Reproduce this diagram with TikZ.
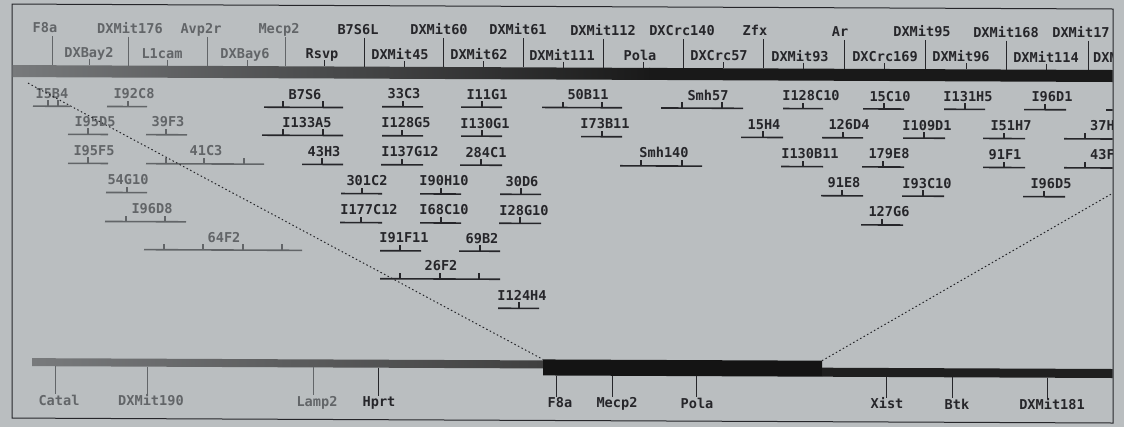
\documentclass[tikz,border=0pt]{standalone}
\usepackage{fontspec}
\newfontfamily\mapfont{DejaVu Sans Mono}
\definecolor{bg}{RGB}{186,190,192}
\definecolor{ink}{RGB}{38,38,42}
\definecolor{faint}{RGB}{98,101,104}
\definecolor{barlight}{RGB}{120,122,124}
\newcommand\yac[7]{% name, label, centre x, line y, x1, x2, style prefix
  \node[#7lbl] (#1) at (#3,#4-8) {#2};
  \draw[#7yacline] (#5,#4) -- (#6,#4);}
\newcommand\tk[3]{\draw[#3tick] (#1,#2) -- (#1,#2-6);}
\begin{document}
\begin{tikzpicture}[x=1pt,y=-1pt,
  lbl/.style={font=\mapfont\bfseries\fontsize{13.6}{16}\selectfont, text=ink, inner sep=0pt, anchor=base},
  flbl/.style={lbl, text=faint},
  yacline/.style={draw=ink, line width=1.6pt},
  fyacline/.style={draw=faint, line width=1.6pt},
  tick/.style={draw=ink, line width=1.1pt},
  ftick/.style={draw=faint, line width=1.1pt},
  dotline/.style={draw=ink, line width=1pt, dash pattern=on 1.5pt off 2.5pt},
  frame/.style={draw=ink, line width=1pt}]
\useasboundingbox (0,0) rectangle (1124,427);
\fill[bg] (0,0) rectangle (1124,427);
\begin{scope}[yslant=-0.0045]
\draw[frame] (12,4) rectangle (1113,418);
\clip (12.5,4.5) rectangle (1112.5,417.5);
% ---------- top chromosome bar ----------
\shade[left color=barlight, right color=black!90] (12,65) rectangle (650,77);
\fill[black!90] (649,65) rectangle (1113,77);
% ---------- top markers, row 1 (long ticks) ----------
\foreach \n/\t/\c/\k/\s in {
  tF8a/F8a/45/52/f, tDXMit176/DXMit176/130/128/f, tAvp2r/Avp2r/201/207/f,
  tMecp2/Mecp2/279/285/f, tB7S6L/B7S6L/358/364/, tDXMit60/DXMit60/439/443/,
  tDXMit61/DXMit61/518/523/, tDXMit112/DXMit112/603/603/, tDXCrc140/DXCrc140/682/683/,
  tZfx/Zfx/755/763/, tAr/Ar/840/844/, tDXMit95/DXMit95/922/925/,
  tDXMit168/DXMit168/1006/1006/, tDXMit17/DXMit17/1081/1088/}{
  \node[\s lbl] (\n) at (\c,32.5) {\t};
  \draw[\s tick, line width=1pt] (\k,36) -- (\k,65);}
% ---------- top markers, row 2 (short ticks) ----------
\foreach \n/\t/\c/\k/\s in {
  tDXBay2/DXBay2/89/89/f, tL1cam/L1cam/162/167/f, tDXBay6/DXBay6/245/247/f,
  tRsvp/Rsvp/322/324/, tDXMit45/DXMit45/400/404/, tDXMit62/DXMit62/479/483/,
  tDXMit111/DXMit111/562/563/, tPola/Pola/640/643/, tDXCrc57/DXCrc57/719/723/,
  tDXMit93/DXMit93/800/803/, tDXCrc169/DXCrc169/885/884/, tDXMit96/DXMit96/961/966/,
  tDXMit114/DXMit114/1046/1046/}{
  \node[\s lbl] (\n) at (\c,57.5) {\t};
  \draw[\s tick, line width=1pt] (\k,59) -- (\k,65);}
\node[lbl, anchor=base west] (tDXM) at (1093,57.5) {DXM};
% ---------- YAC contigs ----------
% row 1
\yac{I5B4}{I5B4}{52}{106}{33}{70}{f}\tk{48}{106}{f}\tk{58}{106}{f}
\yac{I92C8}{I92C8}{134}{106}{107}{147}{f}\tk{128}{106}{f}
\yac{B7S6}{B7S6}{305}{106}{264}{343}{}\tk{283}{106}{}\tk{323}{106}{}
\yac{33C3}{33C3}{404}{105}{382}{423}{}\tk{403}{105}{}
\yac{I11G1}{I11G1}{487}{105}{461}{502}{}\tk{482}{105}{}
\yac{50B11}{50B11}{588}{105}{542}{622}{}\tk{563}{105}{}\tk{602}{105}{}
\yac{Smh57}{Smh57}{708}{105}{661}{743}{}\tk{682}{105}{}\tk{722}{105}{}
\yac{I128C10}{I128C10}{811}{105}{783}{823}{}\tk{803}{105}{}
\yac{15C10}{15C10}{890}{105}{863}{904}{}\tk{884}{105}{}
\yac{I131H5}{I131H5}{968}{105}{944}{985}{}\tk{965}{105}{}
\yac{I96D1}{I96D1}{1052}{105}{1024}{1066}{}\tk{1045}{105}{}
\draw[yacline] (1106,105) -- (1113,105);
% row 2
\yac{I95D5}{I95D5}{95}{134}{68}{108}{f}\tk{88}{134}{f}
\yac{39F3}{39F3}{168}{134}{146}{187}{f}\tk{166}{134}{f}
\yac{I133A5}{I133A5}{307}{134}{262}{343}{}\tk{283}{134}{}\tk{323}{134}{}
\yac{I128G5}{I128G5}{406}{134}{382}{423}{}\tk{402}{134}{}
\yac{I130G1}{I130G1}{485}{134}{461}{502}{}\tk{482}{134}{}
\yac{I73B11}{I73B11}{605}{134}{581}{622}{}\tk{602}{134}{}
\yac{15H4}{15H4}{764}{134}{741}{783}{}\tk{763}{134}{}
\yac{126D4}{126D4}{849}{134}{822}{863}{}\tk{843}{134}{}
\yac{I109D1}{I109D1}{927}{134}{903}{945}{}\tk{924}{134}{}
\yac{I51H7}{I51H7}{1011}{134}{983}{1025}{}\tk{1004}{134}{}
\node[lbl, anchor=base west] (37H) at (1090,126) {37H};
\draw[yacline] (1064,134) -- (1113,134); \tk{1085}{134}{}
% row 3
\yac{I95F5}{I95F5}{94}{163}{68}{108}{f}\tk{88}{163}{f}
\yac{41C3}{41C3}{206}{163}{146}{264}{f}\tk{166}{163}{f}\tk{204}{163}{f}\tk{244}{163}{f}
\yac{43H3}{43H3}{324}{163}{302}{343}{}\tk{322}{163}{}
\yac{I137G12}{I137G12}{410}{163}{381}{423}{}\tk{402}{163}{}
\yac{284C1}{284C1}{486}{163}{460}{502}{}\tk{481}{163}{}
\yac{Smh140}{Smh140}{664}{163}{620}{702}{}\tk{641}{163}{}\tk{682}{163}{}
\yac{I130B11}{I130B11}{810}{163}{781}{823}{}\tk{803}{163}{}
\yac{179E8}{179E8}{889}{163}{862}{904}{}\tk{883}{163}{}
\yac{91F1}{91F1}{1005}{163}{983}{1025}{}\tk{1004}{163}{}
\node[lbl, anchor=base west] (43F) at (1090,155) {43F};
\draw[yacline] (1064,163) -- (1113,163); \tk{1085}{163}{}
% row 4
\yac{54G10}{54G10}{128}{192}{106}{147}{f}\tk{127}{192}{f}
\yac{301C2}{301C2}{367}{192}{341}{382}{}\tk{362}{192}{}
\yac{I90H10}{I90H10}{444}{192}{420}{461}{}\tk{441}{192}{}
\yac{30D6}{30D6}{522}{192}{500}{541}{}\tk{521}{192}{}
\yac{91E8}{91E8}{844}{192}{821}{863}{}\tk{842}{192}{}
\yac{I93C10}{I93C10}{927}{192}{902}{944}{}\tk{923}{192}{}
\yac{I96D5}{I96D5}{1051}{192}{1023}{1065}{}\tk{1044}{192}{}
% row 5
\yac{I96D8}{I96D8}{152}{221}{105}{186}{f}\tk{126}{221}{f}\tk{165}{221}{f}
\yac{I177C12}{I177C12}{369}{221}{340}{382}{}\tk{361}{221}{}
\yac{I68C10}{I68C10}{444}{221}{420}{461}{}\tk{441}{221}{}
\yac{I28G10}{I28G10}{524}{221}{499}{541}{}\tk{520}{221}{}
\yac{127G6}{127G6}{889}{221}{861}{903}{}\tk{882}{221}{}
% row 6
\yac{64F2}{64F2}{224}{249}{144}{302}{f}\tk{164}{249}{f}\tk{203}{249}{f}\tk{243}{249}{f}\tk{282}{249}{f}
\yac{I91F11}{I91F11}{404}{249}{380}{421}{}\tk{400}{249}{}
\yac{69B2}{69B2}{482}{249}{459}{500}{}\tk{480}{249}{}
% row 7
\yac{26F2}{26F2}{441}{277}{380}{500}{}\tk{400}{277}{}\tk{440}{277}{}\tk{479}{277}{}
% row 8
\yac{I124H4}{I124H4}{522}{306}{498}{539}{}\tk{519}{306}{}
% ---------- bottom chromosome ----------
\shade[left color=barlight, right color=black!75] (32,358) rectangle (543,366);
\fill[black!92] (543,357) rectangle (822,373);
\fill[black!88] (822,364) rectangle (1113,373);
\coordinate (zl) at (28,83);
\coordinate (zr) at (1113,188);
\coordinate (bl) at (543,357);
\coordinate (br) at (822,357);
\draw[dotline] (zl) -- (bl);
\draw[dotline] (br) -- (zr);
% bottom markers
\foreach \n/\t/\c/\k/\s/\y in {
  bCatal/Catal/59/55/f/366, bDXMit190/DXMit190/151/147/f/366, bLamp2/Lamp2/317/313/f/366,
  bHprt/Hprt/379/378//366, bF8a/F8a/560/556//373, bMecp2/Mecp2/617/612//373,
  bPola/Pola/697/696//373, bXist/Xist/887/886//373, bBtk/Btk/957/952//373,
  bDXMit181/DXMit181/1052/1047//373}{
  \node[\s lbl] (\n) at (\c,405) {\t};
  \draw[\s tick, line width=1pt] (\k,\y) -- (\k,394);}
\end{scope}
\end{tikzpicture}
\end{document}
